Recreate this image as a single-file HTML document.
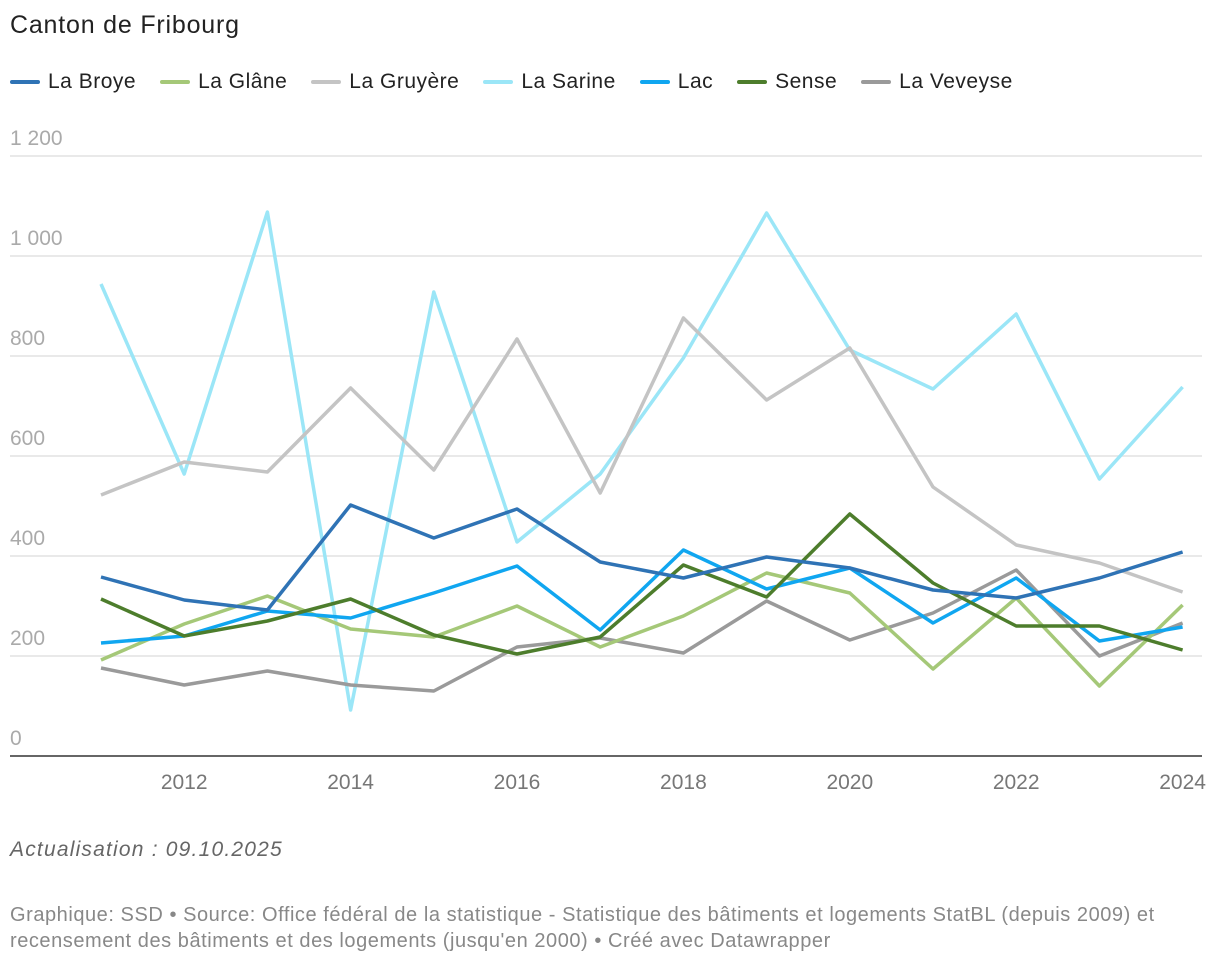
<!DOCTYPE html>
<html><head><meta charset="utf-8"><style>
body{margin:0;background:#fff;font-family:"Liberation Sans",sans-serif;width:1220px;height:964px;overflow:hidden;position:relative}
.t{position:absolute;left:10px;top:11px;font-size:25px;letter-spacing:0.8px;color:#222}
.leg{position:absolute;left:10px;top:70px;display:flex;font-size:21px;letter-spacing:0.5px;color:#222}
.li{display:flex;align-items:center;margin-right:24px}
.sw{width:30px;height:4px;margin-right:8px;border-radius:2px}
.note{position:absolute;left:10px;top:838px;font-size:21px;letter-spacing:1.2px;font-style:italic;color:#666}
.src{position:absolute;left:10px;top:902px;font-size:20px;letter-spacing:0.55px;color:#888;line-height:26px;width:1200px}
</style></head><body>
<div class="t">Canton de Fribourg</div>
<div class="leg" id="leg"></div>
<svg id="c" width="1220" height="964" style="position:absolute;left:0;top:0"></svg>
<div class="note">Actualisation : 09.10.2025</div>
<div class="src">Graphique: SSD • Source: Office fédéral de la statistique - Statistique des bâtiments et logements StatBL (depuis 2009) et recensement des bâtiments et des logements (jusqu'en 2000) • Créé avec Datawrapper</div>
<script>
const years=[2011,2012,2013,2014,2015,2016,2017,2018,2019,2020,2021,2022,2023,2024];
const yTicks=[0,200,400,600,800,1000,1200];
const yTickLabels=["0","200","400","600","800","1 000","1 200"];
const xTicks=[2012,2014,2016,2018,2020,2022,2024];
const seriesNames=["La Broye","La Glâne","La Gruyère","La Sarine","Lac","Sense","La Veveyse"];
const seriesColors=["#2f73b5","#a5c878","#c4c4c4","#9be6f7","#10a6f0","#4d7d2c","#9a9a9a"];
const broye=[358,312,292,502,436,494,388,356,398,376,332,316,356,408];
const glane=[192,264,320,254,238,300,218,280,366,326,174,316,140,302];
const gruyere=[522,588,568,736,572,834,526,876,712,816,538,422,386,328];
const sarine=[944,564,1088,92,928,428,564,796,1086,812,734,884,554,738];
const lac=[226,240,290,276,326,380,252,412,334,376,266,356,230,258];
const sense=[314,240,270,314,242,204,238,382,318,484,346,260,260,212];
const veveyse=[176,142,170,142,130,218,236,206,310,232,286,372,200,266];
const allSeries=[broye,glane,gruyere,sarine,lac,sense,veveyse];
const drawOrder=[3,2,6,1,4,5,0];
const X=y=>101+(y-2011)*83.2;
const Y=v=>756-v*0.5;
const svg=document.getElementById('c');const NS="http://www.w3.org/2000/svg";
function mk(t,a){const e=document.createElementNS(NS,t);for(const k in a)e.setAttribute(k,a[k]);svg.appendChild(e);return e;}
yTicks.forEach((v,i)=>{
 if(v>0){const l=mk('line',{x1:10,x2:1202,y1:Y(v),y2:Y(v),stroke:'#e2e2e2','stroke-width':1.5});
 
 }
 const t=mk('text',{x:10,y:Y(v)-11,'font-size':21,fill:'#aaa','font-family':'Liberation Sans'});t.textContent=yTickLabels[i];
 
 
});
const ax=mk('line',{x1:10,x2:1202,y1:756,y2:756,stroke:'#333','stroke-width':1.5});


xTicks.forEach(y=>{const t=mk('text',{x:X(y),y:789,'font-size':21,fill:'#777','text-anchor':'middle','font-family':'Liberation Sans'});t.textContent=y;
 
 });
drawOrder.forEach(i=>{const d=allSeries[i].map((v,j)=>(j?'L':'M')+X(years[j])+','+Y(v)).join('');
 const p=mk('path',{d:d,fill:'none',stroke:seriesColors[i],'stroke-width':3.5,'stroke-linejoin':'round'});
 
 });
const leg=document.getElementById('leg');
seriesNames.forEach((n,i)=>{const d=document.createElement('div');d.className='li';
 
 
 d.innerHTML='<span class="sw" style="background:'+seriesColors[i]+'"></span>'+n;leg.appendChild(d);});
</script>
</body></html>
